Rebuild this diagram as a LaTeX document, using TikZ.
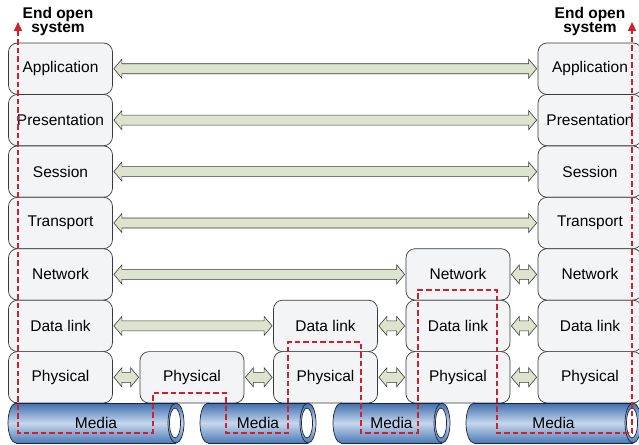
\documentclass[tikz,border=0pt]{standalone}
\usepackage{fontspec}
\setmainfont{Liberation Sans}
\usetikzlibrary{calc,arrows.meta}
\definecolor{boxfill}{HTML}{F3F4F6}
\definecolor{boxedge}{HTML}{3A3A3A}
\definecolor{arrfill}{HTML}{DDE3CC}
\definecolor{flow}{HTML}{D0202A}
\definecolor{cyltop}{HTML}{3F6EAE}
\definecolor{cylmid}{HTML}{C6D7EC}
\definecolor{cylbot}{HTML}{4C7AB6}
\definecolor{cyledge}{HTML}{1A2540}
\tikzset{
  layer/.style={rectangle, rounded corners=9pt, draw=boxedge, line width=0.7pt, fill=boxfill,
    minimum width=104pt, minimum height=51.4pt, inner sep=0pt, font=\fontsize{15.5}{18}\selectfont},
  dblarr/.style={draw=boxedge, line width=0.6pt, fill=arrfill, line join=miter},
  flowpath/.style={draw=flow, line width=1.7pt, dash pattern=on 5.5pt off 3pt},
  cylshade/.style={top color=cyltop, bottom color=cylbot, middle color=cylmid},
  title/.style={font=\bfseries\fontsize{15.5}{14.5}\selectfont, align=center, inner sep=0pt},
}
\newcommand{\dbl}[2]{%
  \draw[dblarr] let \p1=($(#1.east)+(1pt,0)$), \p2=($(#2.west)-(1pt,0)$) in
    (\x1,\y1) -- (\x1+8pt,\y1+9.5pt) -- (\x1+8pt,\y1+5pt) -- (\x2-8pt,\y1+5pt)
    -- (\x2-8pt,\y1+9.5pt) -- (\x2,\y1) -- (\x2-8pt,\y1-9.5pt) -- (\x2-8pt,\y1-5pt)
    -- (\x1+8pt,\y1-5pt) -- (\x1+8pt,\y1-9.5pt) -- cycle;}
\newcommand{\cyl}[3]{%
  \shade[cylshade, draw=cyledge, line width=0.7pt] ({#1+8},423) ellipse [x radius=8, y radius=20];
  \shade[cylshade] ({#1+8},403) rectangle ({#2-8},443);
  \draw[cyledge, line width=0.7pt] ({#1+8},403) -- ({#2-8},403) ({#1+8},443) -- ({#2-8},443);
  \shade[cylshade, draw=cyledge, line width=0.7pt] ({#2-8},423) ellipse [x radius=8, y radius=20];
  \draw[cyledge, line width=0.7pt, fill=white] ({#2-9},423) ellipse [x radius=5.5, y radius=15];
  \node[font=\fontsize{15.5}{18}\selectfont] (#3) at ({(#1+#2)/2},423) {Media};}
\begin{document}
\begin{tikzpicture}[x=1pt, y=-1pt]
\useasboundingbox (0,0) rectangle (639,444);
% titles
\node[title] (tl) at (58,21.5) {End open\\system};
\node[title] (tr) at (590,21.5) {End open\\system};
% left column
\node[layer] (L1) at (60.5,68.7) {Application};
\node[layer] (L2) at (60.5,120.1) {Presentation};
\node[layer] (L3) at (60.5,171.6) {Session};
\node[layer] (L4) at (60.5,223.0) {Transport};
\node[layer] (L5) at (60.5,274.4) {Network};
\node[layer] (L6) at (60.5,325.9) {Data link};
\node[layer] (L7) at (60.5,377.3) {Physical};
% right column
\node[layer] (R1) at (590,68.7) {Application};
\node[layer] (R2) at (590,120.1) {Presentation};
\node[layer] (R3) at (590,171.6) {Session};
\node[layer] (R4) at (590,223.0) {Transport};
\node[layer] (R5) at (590,274.4) {Network};
\node[layer] (R6) at (590,325.9) {Data link};
\node[layer] (R7) at (590,377.3) {Physical};
% intermediate
\node[layer] (A7) at (192,377.3) {Physical};
\node[layer] (B6) at (325.5,325.9) {Data link};
\node[layer] (B7) at (325.5,377.3) {Physical};
\node[layer] (C5) at (458,274.4) {Network};
\node[layer] (C6) at (458,325.9) {Data link};
\node[layer] (C7) at (458,377.3) {Physical};
% arrows
\dbl{L1}{R1}
\dbl{L2}{R2}
\dbl{L3}{R3}
\dbl{L4}{R4}
\dbl{L5}{C5}
\dbl{C5}{R5}
\dbl{L6}{B6}
\dbl{B6}{C6}
\dbl{C6}{R6}
\dbl{L7}{A7}
\dbl{A7}{B7}
\dbl{B7}{C7}
\dbl{C7}{R7}
% media
\cyl{8}{184}{M1}
\cyl{200}{316}{M2}
\cyl{333}{450}{M3}
\cyl{466}{641}{M4}
% flow path
\coordinate (fs) at (18,22);
\coordinate (fe) at (632,22);
\draw[flowpath, {Triangle[length=9pt,width=8pt]}-{Triangle[length=9pt,width=8pt]}]
  (fs) -- (18,433) -- (153,433) -- (153,393) -- (226,393) -- (226,433) -- (288,433)
  -- (288,342) -- (361,342) -- (361,433) -- (418,433) -- (418,290) -- (497,290)
  -- (497,433) -- (632,433) -- (fe);
\end{tikzpicture}
\end{document}
